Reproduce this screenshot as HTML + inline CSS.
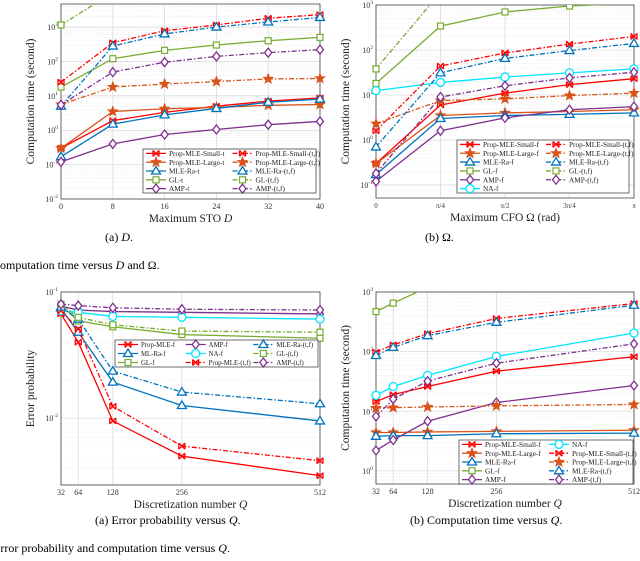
<!DOCTYPE html>
<html><head><meta charset="utf-8"><style>
html,body{margin:0;padding:0;background:#fff;width:640px;height:561px;overflow:hidden}
svg{display:block;font-family:"Liberation Serif",serif}
</style></head><body>
<svg id="fig" width="640" height="561" xmlns="http://www.w3.org/2000/svg">
<text x="105" y="241" font-size="12">(a)  <tspan font-style="italic">D</tspan>.</text>
<text x="425" y="241" font-size="12">(b)  Ω.</text>
<text x="-8" y="269" font-size="12">Computation time versus <tspan font-style="italic">D</tspan> and Ω.</text>
<text x="95" y="524" font-size="12">(a)  Error probability versus <tspan font-style="italic">Q</tspan>.</text>
<text x="410" y="524" font-size="12">(b)  Computation time versus <tspan font-style="italic">Q</tspan>.</text>
<text x="-7" y="552" font-size="12">Error probability and computation time versus <tspan font-style="italic">Q</tspan>.</text>
</svg>
<script>
// ---- Chart A data ----
const aX = [0, 8, 16, 24, 32, 40];
const aTicks = ['0', '8', '16', '24', '32', '40'];
const aSmallT = [0.3, 1.9, 3.3, 5, 7, 8.7];
const aLargeT = [0.3, 3.5, 4.2, 4.6, 5.3, 5.6];
const aRaT = [0.17, 1.5, 2.8, 4.3, 6.5, 8];
const aGLT = [18, 120, 210, 300, 400, 500];
const aAMPT = [0.12, 0.4, 0.75, 1.05, 1.45, 1.8];
const aSmallTF = [25, 350, 780, 1150, 1800, 2300];
const aLargeTF = [5.6, 18, 22, 26, 31, 32];
const aRaTF = [5, 280, 630, 1000, 1400, 1900];
const aGLTF = [1150, 10000, 40000, 100000, 200000, 400000];
const aAMPTF = [5.5, 49, 95, 140, 180, 220];
// ---- Chart B data ----
const bX = [0, 1, 2, 3, 4];
const bTicks = ['0', 'π/4', 'π/2', '3π/4', 'π'];
const bSmallF = [0.3, 6, 11, 17, 23];
const bLargeF = [0.3, 3.5, 4, 4.3, 4.7];
const bRaF = [0.17, 3, 3.5, 3.7, 4];
const bGLF = [18, 340, 700, 950, 1100];
const bAMPF = [0.12, 1.6, 3.1, 4.7, 5.5];
const bNAF = [12.5, 19, 25, 31, 38];
const bSmallTF = [1.6, 44, 86, 135, 200];
const bLargeTF = [2.3, 7.5, 8.2, 9.7, 11];
const bRaTF = [0.7, 31, 65, 97, 140];
const bGLTF = [38, 1900, 5000, 10000, 20000];
const bAMPTF = [0.18, 9, 16, 24, 32];
// ---- Chart C data ----
const cX = [32, 64, 128, 256, 512];
const cTicks = ['32', '64', '128', '256', '512'];
const cPropF = [0.067, 0.040, 0.0095, 0.005, 0.0035];
const cPropTF = [0.071, 0.051, 0.0124, 0.006, 0.0046];
const cRaF = [0.074, 0.048, 0.0193, 0.0126, 0.0095];
const cRaTF = [0.076, 0.061, 0.0236, 0.0161, 0.013];
const cGLF = [0.078, 0.059, 0.053, 0.046, 0.043];
const cGLTF = [0.08, 0.063, 0.055, 0.049, 0.048];
const cAMPF = [0.077, 0.072, 0.070, 0.069, 0.067];
const cAMPTF = [0.08, 0.078, 0.075, 0.073, 0.072];
const cNAF = [0.071, 0.069, 0.064, 0.063, 0.061];
// ---- Chart D data ----
const dX = [32, 64, 128, 256, 512];
const dTicks = ['32', '64', '128', '256', '512'];
const dSmallF = [14.5, 19, 26, 47, 82];
const dLargeF = [4.4, 4.4, 4.5, 4.6, 4.8];
const dRaF = [3.8, 3.9, 3.9, 4.2, 4.3];
const dGLF = [470, 650, 1200, 2500, 5000];
const dAMPF = [2.2, 3.3, 6.8, 14, 27];
const dNAF = [18.5, 26, 40, 83, 205];
const dSmallTF = [98, 130, 200, 360, 640];
const dLargeTF = [11.3, 11.5, 11.8, 12.3, 13];
const dRaTF = [86, 118, 185, 310, 600];
const dAMPTF = [8.2, 16, 32, 64, 135];

const RED='#ff0000', ORA='#d95319', BLU='#0072bd', GRN='#77ac30', PUR='#7e2f8e', CYA='#00e5ff';
const NS='http://www.w3.org/2000/svg';
const svg=document.getElementById('fig');
function mk(tag,attrs,parent){const e=document.createElementNS(NS,tag);for(const k in attrs)e.setAttribute(k,attrs[k]);(parent||svg).appendChild(e);return e;}

function marker(g,type,x,y,color){
  let e;
  if(type==='x'){e=mk('path',{d:`M${x-3},${y-3}L${x+3},${y+3}M${x-3},${y+3}L${x+3},${y-3}M${x-3},${y-3}L${x-3},${y+3}M${x+3},${y-3}L${x+3},${y+3}`,stroke:color,'stroke-width':1.3,fill:'none'},g);}
  else if(type==='star'){let p='';for(let i=0;i<10;i++){const r=i%2?2.2:5.2;const a=-Math.PI/2+i*Math.PI/5;p+=(i?'L':'M')+(x+r*Math.cos(a)).toFixed(1)+','+(y+r*Math.sin(a)).toFixed(1);}e=mk('path',{d:p+'Z',fill:color,stroke:color,'stroke-width':0.8},g);}
  else if(type==='tri'){e=mk('path',{d:`M${x},${y-4.5}L${x+4.5},${y+3}L${x-4.5},${y+3}Z`,fill:'#fff',stroke:color,'stroke-width':1.3},g);}
  else if(type==='sq'){e=mk('rect',{x:x-3,y:y-3,width:6,height:6,fill:'#fff',stroke:color,'stroke-width':1.2},g);}
  else if(type==='dia'){e=mk('path',{d:`M${x},${y-4.5}L${x+3.5},${y}L${x},${y+4.5}L${x-3.5},${y}Z`,fill:'#fff',stroke:color,'stroke-width':1.3},g);}
  else {e=mk('circle',{cx:x,cy:y,r:4,fill:'#fff',stroke:color,'stroke-width':1.3},g);}
  
  
}

function plot(c){
  const g=mk('g',{});
  
  
  const {L,R,T,B,xmin,xmax,dmin,dmax}=c;
  const sx=v=>L+(v-xmin)/(xmax-xmin)*(R-L);
  const sy=v=>B-(Math.log10(v)-dmin)/(dmax-dmin)*(B-T);
  const bg=mk('rect',{x:L,y:T,width:R-L,height:B-T,fill:'#fff'},g);
  
  
  // grid
  for(let d=Math.floor(dmin);d<=Math.ceil(dmax);d++){
    for(let m=1;m<10;m++){const v=m*Math.pow(10,d);const y=sy(v);if(y<T-0.1||y>B+0.1)continue;
      const gl=mk('line',{x1:L,x2:R,y1:y,y2:y,stroke:m===1?'#dcdcdc':'#e4e4e4','stroke-width':m===1?0.8:0.6,'stroke-dasharray':m===1?'':'1,1.5'},g);
      
      
      if(m===1){
        const t=mk('text',{x:L-3,y:y+3,'text-anchor':'end','font-size':8,fill:'#333'},g);
        
        
        t.textContent='10';const s=mk('tspan',{dy:-4,'font-size':5.5},t);s.textContent=String(d);
      }
    }
  }
  c.xs.forEach((xv,i)=>{const x=sx(xv);
    const gl=mk('line',{x1:x,x2:x,y1:T,y2:B,stroke:'#dcdcdc','stroke-width':0.8},g);
    
    
    const t=mk('text',{x:x,y:B+10,'text-anchor':'middle','font-size':c.tickSize||8,fill:'#333'},g);
    
    
    t.textContent=c.ticks[i];});
  const fr=mk('rect',{x:L,y:T,width:R-L,height:B-T,fill:'none',stroke:'#444','stroke-width':0.8},g);
  
  
  const cid='clip'+c.name;
  const cp=mk('clipPath',{id:cid},g);mk('rect',{x:L-6,y:T,width:R-L+12,height:B-T+6},cp);
  const sg=mk('g',{'clip-path':`url(#${cid})`},g);
  c.series.forEach(s=>{
    const pts=s.ys.map((v,i)=>[sx(c.xs[i]),sy(v)]);
    const pl=mk('polyline',{points:pts.map(p=>p.join(',')).join(' '),fill:'none',stroke:s.color,'stroke-width':1.3,'stroke-dasharray':s.dash?'5,2,1.5,2':''},sg);
    
    
    pts.forEach(p=>{if(p[1]>=T-1&&p[1]<=B+1)marker(sg,s.m,p[0],p[1],s.color);});
  });
  // axis labels
  const xl=mk('text',{x:(L+R)/2,y:B+23,'text-anchor':'middle','font-size':11.5,fill:'#222'},g);
  
  
  xl.innerHTML=c.xlabel;
  const yl=mk('text',{x:0,y:0,'text-anchor':'middle','font-size':11.5,fill:'#222',transform:`translate(${L-27},${(T+B)/2}) rotate(-90)`},g);
  
  
  yl.textContent=c.ylabel;
  // legend
  const lg=c.legend;
  const lgBox=mk('rect',{x:lg.x,y:lg.y,width:lg.w,height:lg.h,fill:'#fff',stroke:'#333','stroke-width':0.7},g);
  
  
  const rows=lg.rows, colW=lg.w/lg.cols, rowH=lg.h/rows;
  lg.order.forEach((k,i)=>{const s=c.series.find(q=>q.key===k);
    const col=Math.floor(i/rows), r=i%rows;
    const x=lg.x+col*colW+3, y=lg.y+rowH*(r+0.5);
    const eg=mk('g',{},g);
    
    
    mk('line',{x1:x,x2:x+20,y1:y,y2:y,stroke:s.color,'stroke-width':1.3,'stroke-dasharray':s.dash?'5,2,1.5,2':''},eg);
    marker(eg,s.m,x+10,y,s.color);
    const t=mk('text',{x:x+23,y:y+2.6,'font-size':lg.fs||7.3,fill:'#222'},eg);
    t.textContent=s.label;
  });
}
const S=(key,label,ys,color,m,dash)=>({key,label,ys,color,m,dash});

plot({name:'chart-sto',L:61,R:320,T:4,B:199,xmin:0,xmax:40,dmin:-2,dmax:3.67,xs:aX,ticks:aTicks,
 xlabel:'Maximum STO <tspan font-style="italic">D</tspan>',ylabel:'Computation time (second)',
 series:[S('st','Prop-MLE-Small-t',aSmallT,RED,'x',0),S('lt','Prop-MLE-Large-t',aLargeT,ORA,'star',0),S('rt','MLE-Ra-t',aRaT,BLU,'tri',0),S('gt','GL-t',aGLT,GRN,'sq',0),S('at','AMP-t',aAMPT,PUR,'dia',0),
  S('stf','Prop-MLE-Small-(t,f)',aSmallTF,RED,'x',1),S('ltf','Prop-MLE-Large-(t,f)',aLargeTF,ORA,'star',1),S('rtf','MLE-Ra-(t,f)',aRaTF,BLU,'tri',1),S('gtf','GL-(t,f)',aGLTF,GRN,'sq',1),S('atf','AMP-(t,f)',aAMPTF,PUR,'dia',1)],
 legend:{x:143,y:149,w:173,h:44,cols:2,rows:5,order:['st','lt','rt','gt','at','stf','ltf','rtf','gtf','atf']}});

plot({name:'chart-cfo',L:376,R:634,T:5,B:198,xmin:0,xmax:4,dmin:-1.29,dmax:3,xs:bX,ticks:bTicks,tickSize:7,
 xlabel:'Maximum CFO Ω (rad)',ylabel:'Computation time (second)',
 series:[S('sf','Prop-MLE-Small-f',bSmallF,RED,'x',0),S('lf','Prop-MLE-Large-f',bLargeF,ORA,'star',0),S('rf','MLE-Ra-f',bRaF,BLU,'tri',0),S('gf','GL-f',bGLF,GRN,'sq',0),S('af','AMP-f',bAMPF,PUR,'dia',0),S('nf','NA-f',bNAF,CYA,'o',0),
  S('stf','Prop-MLE-Small-(t,f)',bSmallTF,RED,'x',1),S('ltf','Prop-MLE-Large-(t,f)',bLargeTF,ORA,'star',1),S('rtf','MLE-Ra-(t,f)',bRaTF,BLU,'tri',1),S('gtf','GL-(t,f)',bGLTF,GRN,'sq',1),S('atf','AMP-(t,f)',bAMPTF,PUR,'dia',1)],
 legend:{x:457,y:140,w:172,h:53,cols:2,rows:6,order:['sf','lf','rf','gf','af','nf','stf','ltf','rtf','gtf','atf']}});

plot({name:'chart-error-prob',L:61,R:320,T:292,B:485,xmin:32,xmax:512,dmin:-2.53,dmax:-1,xs:cX,ticks:cTicks,
 xlabel:'Discretization number <tspan font-style="italic">Q</tspan>',ylabel:'Error probability',
 series:[S('pf','Prop-MLE-f',cPropF,RED,'x',0),S('rf','ML-Ra-f',cRaF,BLU,'tri',0),S('gf','GL-f',cGLF,GRN,'sq',0),S('af','AMP-f',cAMPF,PUR,'dia',0),S('nf','NA-f',cNAF,CYA,'o',0),
  S('ptf','Prop-MLE-(t,f)',cPropTF,RED,'x',1),S('rtf','MLE-Ra-(t,f)',cRaTF,BLU,'tri',1),S('gtf','GL-(t,f)',cGLTF,GRN,'sq',1),S('atf','AMP-(t,f)',cAMPTF,PUR,'dia',1)],
 legend:{x:115,y:340,w:203,h:27,cols:3,rows:3,fs:6.8,order:['pf','rf','gf','af','nf','ptf','rtf','gtf','atf']}});

plot({name:'chart-comp-time-q',L:376,R:634,T:292,B:484,xmin:32,xmax:512,dmin:-0.22,dmax:3,xs:dX,ticks:dTicks,
 xlabel:'Discretization number <tspan font-style="italic">Q</tspan>',ylabel:'Computation time (second)',
 series:[S('sf','Prop-MLE-Small-f',dSmallF,RED,'x',0),S('lf','Prop-MLE-Large-f',dLargeF,ORA,'star',0),S('rf','MLE-Ra-f',dRaF,BLU,'tri',0),S('gf','GL-f',dGLF,GRN,'sq',0),S('af','AMP-f',dAMPF,PUR,'dia',0),
  S('nf','NA-f',dNAF,CYA,'o',0),S('stf','Prop-MLE-Small-(t,f)',dSmallTF,RED,'x',1),S('ltf','Prop-MLE-Large-(t,f)',dLargeTF,ORA,'star',1),S('rtf','MLE-Ra-(t,f)',dRaTF,BLU,'tri',1),S('atf','AMP-(t,f)',dAMPTF,PUR,'dia',1)],
 legend:{x:459,y:440,w:174,h:44,cols:2,rows:5,order:['sf','lf','rf','gf','af','nf','stf','ltf','rtf','atf']}});
</script>
</body></html>
